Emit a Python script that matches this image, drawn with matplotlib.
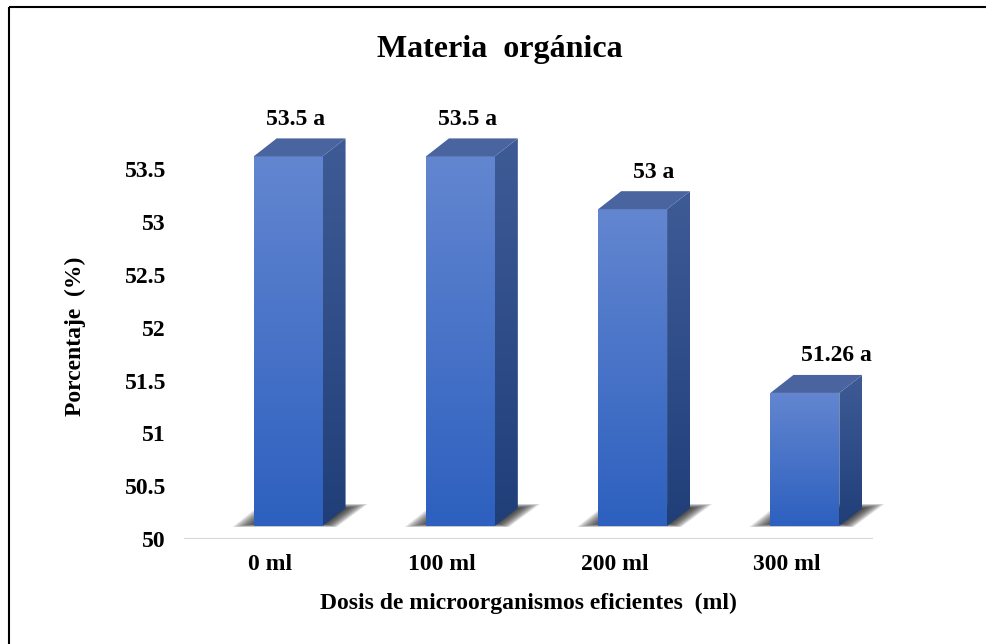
import numpy as np
import matplotlib
matplotlib.use("Agg")
import matplotlib.pyplot as plt
from matplotlib.patches import Polygon
from matplotlib.colors import to_rgb

categories = ["0 ml", "100 ml", "200 ml", "300 ml"]
values = [53.5, 53.5, 53.0, 51.26]
value_labels = ["53.5 a", "53.5 a", "53 a", "51.26 a"]
yticks = [50, 50.5, 51, 51.5, 52, 52.5, 53, 53.5]
ytick_labels = ["50", "50.5", "51", "51.5", "52", "52.5", "53", "53.5"]

title = "Materia  orgánica"
xlabel = "Dosis de microorganismos eficientes  (ml)"
ylabel = "Porcentaje  (%)"

W, H, DPI = 986, 644, 100
FONT = "Liberation Serif"
FS = 17

fig = plt.figure(figsize=(W / DPI, H / DPI), dpi=DPI)
fig.patch.set_facecolor("white")

# main axes: 50 sits on the baseline, one category per 172 px
ax = fig.add_axes([184 / W, (H - 539) / H, 689 / W, 4 * 105.6 / H])
ax.set_xlim(-0.5, 3.5)
ax.set_ylim(50, 54)
ax.set_facecolor("none")
for s in ax.spines.values():
    s.set_visible(False)
ax.axhline(50, color="#d9d9d9", lw=1.6, zorder=1)
ax.set_yticks(yticks)
ax.set_yticklabels(ytick_labels, fontfamily=FONT, fontweight="bold", fontsize=FS)
ax.set_xticks(range(len(categories)))
ax.set_xticklabels(categories, fontfamily=FONT, fontweight="bold", fontsize=FS)
ax.tick_params(axis="both", length=0)
ax.tick_params(axis="y", pad=13)
ax.tick_params(axis="x", pad=11)

# overlay in pixel coordinates for the 3D boxes
pax = fig.add_axes([0, 0, 1, 1], zorder=2)
pax.set_xlim(0, W)
pax.set_ylim(H, 0)
pax.axis("off")
pax.set_facecolor("none")


def px(x, y):
    X, Y = ax.transData.transform((x, y))
    return X, H - Y


def gradient(color_top, color_bot, n=128):
    a = np.array(to_rgb(color_top))
    b = np.array(to_rgb(color_bot))
    t = np.linspace(0, 1, n)[:, None]
    return (a * (1 - t) + b * t)[:, None, :]


BAR_W = 0.40        # front face width, data units
SHIFT_X = 18        # front face offset to the right, px
LIFT = 13           # front face lifted above the baseline, px
DX, DY = 23, 18     # depth of the boxes, px
label_nudge = [7, 7, 21, 32]

for i, v in enumerate(values):
    xl, yb = px(i - BAR_W / 2, 50)
    xr, yt = px(i + BAR_W / 2, v)
    xl += SHIFT_X
    xr += SHIFT_X
    yb -= LIFT
    yt -= LIFT

    # soft floor shadow, darkest next to the box
    shadow = [(xl - 21, yb + 1), (xr + 14, yb + 1), (xr + DX + 22, yb - DY - 4), (xl + 8, yb - DY - 4)]
    cx = xl + (xr - xl) * 0.55 + DX / 2
    cy = yb - DY / 2
    for k in range(12):
        f = 1 - 0.035 * k
        pts = [(cx + (x - cx) * f, cy + (y - cy) * f) for x, y in shadow]
        pax.add_patch(Polygon(pts, closed=True, facecolor="#151515", edgecolor="none",
                              alpha=0.13, zorder=3))

    # front face
    front = Polygon([(xl, yb), (xr, yb), (xr, yt), (xl, yt)], closed=True,
                    facecolor="none", edgecolor="none")
    pax.add_patch(front)
    im = pax.imshow(gradient("#6386d0", "#2d60bf"), extent=(xl, xr, yb, yt),
                    origin="upper", aspect="auto", zorder=5, interpolation="bilinear")
    im.set_clip_path(front)

    # side face
    side = Polygon([(xr, yb), (xr, yt), (xr + DX, yt - DY), (xr + DX, yb - DY)], closed=True,
                   facecolor="none", edgecolor="none")
    pax.add_patch(side)
    im2 = pax.imshow(gradient("#3e5b96", "#203f79"), extent=(xr, xr + DX, yb, yt - DY),
                     origin="upper", aspect="auto", zorder=5, interpolation="bilinear")
    im2.set_clip_path(side)

    # top face
    pax.add_patch(Polygon([(xl, yt), (xr, yt), (xr + DX, yt - DY), (xl + DX, yt - DY)],
                          closed=True, facecolor="#4a64a0", edgecolor="none", zorder=6))

    # value label
    pax.text((xl + xr) / 2 + label_nudge[i], yt - DY - 19, value_labels[i],
             ha="center", va="center", fontfamily=FONT, fontweight="bold",
             fontsize=FS, color="black", zorder=7)

# titles
fig.text(500 / W, 1 - 50 / H, title, ha="center", va="center",
         fontfamily=FONT, fontweight="bold", fontsize=23)
fig.text(528 / W, 1 - 603 / H, xlabel, ha="center", va="center",
         fontfamily=FONT, fontweight="bold", fontsize=FS)
fig.text(75 / W, 1 - 336 / H, ylabel, ha="center", va="center", rotation=90,
         fontfamily=FONT, fontweight="bold", fontsize=FS)

# chart frame
pax.plot([9, W], [7, 7], color="black", lw=1.5, zorder=8, solid_capstyle="butt")
pax.plot([9, 9], [7, H], color="black", lw=1.5, zorder=8, solid_capstyle="butt")

fig.savefig("out.png", dpi=DPI, facecolor="white")
